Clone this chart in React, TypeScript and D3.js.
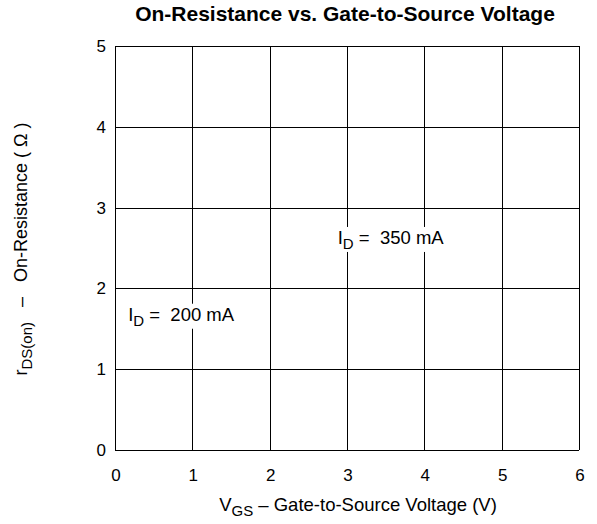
import React, { useEffect, useRef } from "react";
import * as d3 from "d3";

const xTicks = [0, 1, 2, 3, 4, 5, 6];
const yTicks = [0, 1, 2, 3, 4, 5];
const annotations = [
  { name: "D", value: "350 mA", vgs: 2.88, r: 2.55 },
  { name: "D", value: "200 mA", vgs: 0.17, r: 1.6 },
];

const width = 597;
const height = 524;
const margin = { top: 46, right: 18, bottom: 74, left: 115 };
const font = "Arial, 'Liberation Sans', sans-serif";

const App = () => {
  const svgRef = useRef<SVGSVGElement>(null);

  useEffect(() => {
    const svg = d3.select(svgRef.current);
    svg.selectAll("*").remove();

    const x = d3.scaleLinear([0, 6], [margin.left, width - margin.right]);
    const y = d3.scaleLinear([0, 5], [height - margin.bottom, margin.top]);

    // grid
    const grid = svg.append("g").attr("stroke", "#000").attr("stroke-width", 1);
    grid
      .selectAll("line.v")
      .data(xTicks)
      .join("line")
      .attr("class", "v")
      .attr("x1", (d) => Math.round(x(d)) + 0.5)
      .attr("x2", (d) => Math.round(x(d)) + 0.5)
      .attr("y1", y(0))
      .attr("y2", y(5));
    grid
      .selectAll("line.h")
      .data(yTicks)
      .join("line")
      .attr("class", "h")
      .attr("y1", (d) => Math.round(y(d)) + 0.5)
      .attr("y2", (d) => Math.round(y(d)) + 0.5)
      .attr("x1", x(0))
      .attr("x2", x(6));

    // tick labels
    svg
      .append("g")
      .selectAll("text")
      .data(xTicks)
      .join("text")
      .attr("x", (d) => x(d) + 1)
      .attr("y", y(0) + 31)
      .attr("text-anchor", "middle")
      .attr("font-family", font)
      .attr("font-size", 17)
      .text((d) => d);
    svg
      .append("g")
      .selectAll("text")
      .data(yTicks)
      .join("text")
      .attr("x", x(0) - 9)
      .attr("y", (d) => y(d) + 6)
      .attr("text-anchor", "end")
      .attr("font-family", font)
      .attr("font-size", 17)
      .text((d) => d);

    // annotations with white boxes
    annotations.forEach((a) => {
      const g = svg.append("g");
      const t = g
        .append("text")
        .attr("x", x(a.vgs))
        .attr("y", y(a.r))
        .attr("font-family", font)
        .attr("font-size", 18.5)
        .attr("xml:space", "preserve");
      t.append("tspan").text("I");
      t.append("tspan").attr("dy", 5).attr("font-size", 15).text(a.name);
      t.append("tspan").attr("dy", -5).text(" =  " + a.value);
      const bb = (t.node() as SVGTextElement).getBBox();
      g.insert("rect", "text")
        .attr("x", bb.x - 2)
        .attr("y", bb.y)
        .attr("width", bb.width + 4)
        .attr("height", bb.height)
        .attr("fill", "#fff");
    });

    // title
    svg
      .append("text")
      .attr("x", 345)
      .attr("y", 21)
      .attr("text-anchor", "middle")
      .attr("font-family", font)
      .attr("font-size", 21)
      .attr("font-weight", "bold")
      .text("On-Resistance vs. Gate-to-Source Voltage");

    // x title
    const xt = svg
      .append("text")
      .attr("x", 358)
      .attr("y", 511)
      .attr("text-anchor", "middle")
      .attr("font-family", font)
      .attr("font-size", 18.5);
    xt.append("tspan").text("V");
    xt.append("tspan").attr("dy", 5).attr("font-size", 15).text("GS");
    xt.append("tspan").attr("dy", -5).text(" – Gate-to-Source Voltage (V)");

    // y title
    const yt = svg
      .append("text")
      .attr("transform", `translate(27, 249) rotate(-90)`)
      .attr("text-anchor", "middle")
      .attr("font-family", font)
      .attr("font-size", 18)
      .attr("xml:space", "preserve");
    yt.append("tspan").text("r");
    yt.append("tspan").attr("dy", 5).attr("font-size", 15).text("DS(on)");
    yt.append("tspan").attr("dy", -5).text("   –   On-Resistance ( Ω )");
  }, []);

  return (
    <svg
      ref={svgRef}
      width={width}
      height={height}
      style={{ position: "absolute", left: 0, top: 0, background: "#fff" }}
    />
  );
};

export default App;
